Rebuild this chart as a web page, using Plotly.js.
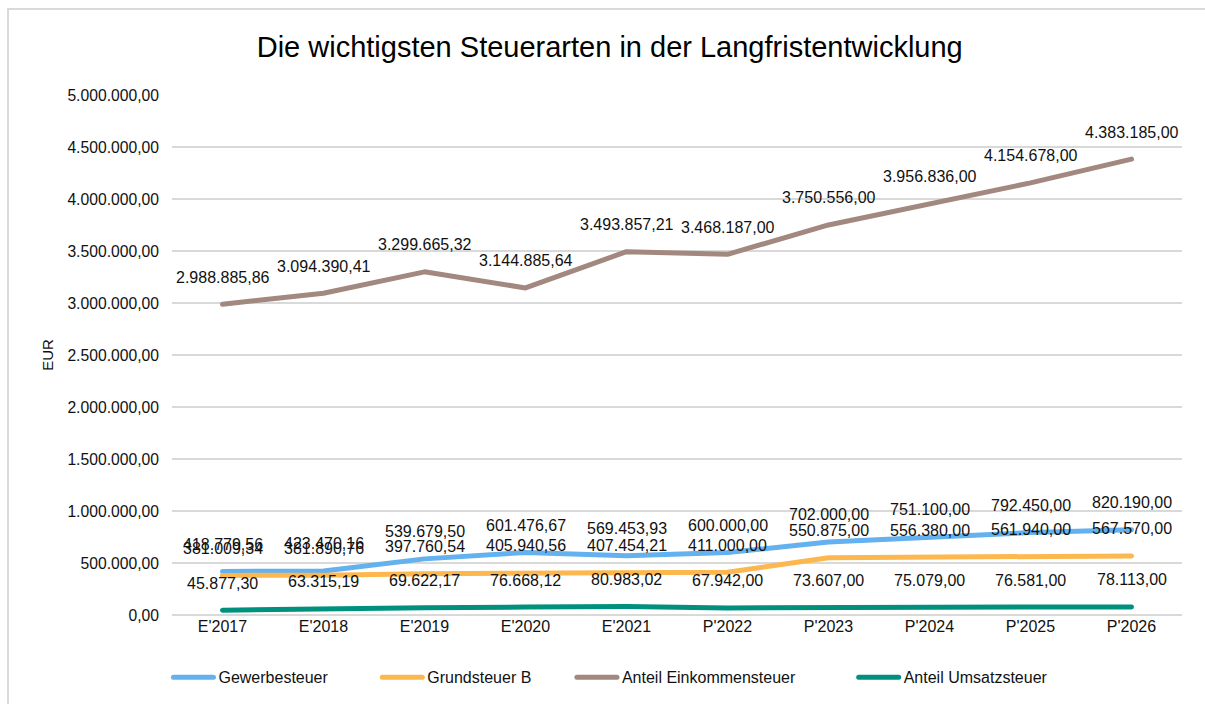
<!DOCTYPE html>
<html>
<head>
<meta charset="utf-8">
<script src="https://cdn.plot.ly/plotly-3.0.1.min.js"></script>
<style>
  html, body { margin: 0; padding: 0; background: #fff; }
  #chart { width: 1205px; height: 704px; position: relative; }
  #frame { position: absolute; left: 7px; top: 8px; width: 1198px; height: 696px;
           border-top: 2px solid #d9d9d9; border-left: 2px solid #d9d9d9; pointer-events: none; box-sizing: border-box; }
  .js-line { stroke-linecap: round; stroke-linejoin: round; }
</style>
</head>
<body>
<div id="chart"></div>
<div id="frame"></div>
<script>
const categories = ["E'2017", "E'2018", "E'2019", "E'2020", "E'2021", "P'2022", "P'2023", "P'2024", "P'2025", "P'2026"];
const gewerbesteuer = [418779.56, 423470.16, 539679.50, 601476.67, 569453.93, 600000.00, 702000.00, 751100.00, 792450.00, 820190.00];
const grundsteuerB = [381009.34, 381890.76, 397760.54, 405940.56, 407454.21, 411000.00, 550875.00, 556380.00, 561940.00, 567570.00];
const einkommensteuer = [2988885.86, 3094390.41, 3299665.32, 3144885.64, 3493857.21, 3468187.00, 3750556.00, 3956836.00, 4154678.00, 4383185.00];
const umsatzsteuer = [45877.30, 63315.19, 69622.17, 76668.12, 80983.02, 67942.00, 73607.00, 75079.00, 76581.00, 78113.00];
const yTicks = [0, 500000, 1000000, 1500000, 2000000, 2500000, 3000000, 3500000, 4000000, 4500000, 5000000];

const seriesList = [
  { name: "Gewerbesteuer", values: gewerbesteuer, color: "#63b1ee", pad: 10 },
  { name: "Grundsteuer B", values: grundsteuerB, color: "#fdb74f", pad: 8 },
  { name: "Anteil Einkommensteuer", values: einkommensteuer, color: "#a2887e", pad: 12 },
  { name: "Anteil Umsatzsteuer", values: umsatzsteuer, color: "#00917e", pad: 0 }
];

const FONT = "Liberation Sans, Arial, sans-serif";

function fmt(v) {
  const parts = v.toFixed(2).split(".");
  parts[0] = parts[0].replace(/\B(?=(\d{3})+(?!\d))/g, ".");
  return parts[0] + "," + parts[1];
}

const traces = seriesList.map(s => ({
  type: "scatter",
  mode: "lines",
  name: s.name + "\u00a0".repeat(s.pad),
  x: categories,
  y: s.values,
  line: { color: s.color, width: 5 },
  hoverinfo: "skip"
}));

const annotations = [];
seriesList.forEach(s => {
  s.values.forEach((v, i) => {
    annotations.push({
      x: categories[i], y: v, xref: "x", yref: "y",
      text: fmt(v), showarrow: false, yshift: 27,
      font: { family: FONT, size: 16, color: "#111" }
    });
  });
});

const layout = {
  width: 1205, height: 704,
  paper_bgcolor: "rgba(0,0,0,0)",
  plot_bgcolor: "#fff",
  margin: { l: 172, r: 23, t: 95, b: 89 },
  separators: ",.",
  title: {
    text: "Die wichtigsten Steuerarten in der Langfristentwicklung",
    x: 0.506, xanchor: "center", y: 0.934, yanchor: "middle",
    font: { family: FONT, size: 29, color: "#000" }
  },
  xaxis: {
    type: "category",
    range: [-0.5, 9.5],
    showgrid: false, zeroline: false,
    showline: false,
    ticks: "",
    tickfont: { family: FONT, size: 16, color: "#111" },
    automargin: false
  },
  yaxis: {
    range: [0, 5000000],
    tickvals: yTicks,
    tickformat: ",.2f",
    showgrid: true, gridcolor: "#d9d9d9", gridwidth: 1.3,
    zeroline: true, zerolinecolor: "#d9d9d9", zerolinewidth: 1.3,
    ticks: "", ticklabelstandoff: 12,
    tickfont: { family: FONT, size: 15.7, color: "#111" },
    title: { text: "EUR", standoff: 10, font: { family: FONT, size: 15, color: "#111" } },
    automargin: false
  },
  showlegend: true,
  legend: {
    orientation: "h",
    xref: "container", x: 0.1398, xanchor: "left",
    yref: "container", y: 0.038, yanchor: "middle",
    font: { family: FONT, size: 16, color: "#111" },
    itemwidth: 40,
    traceorder: "normal",
    entrywidth: 0
  },
  annotations: annotations
};

Plotly.newPlot("chart", traces, layout, { displayModeBar: false, staticPlot: true });
</script>
</body>
</html>
